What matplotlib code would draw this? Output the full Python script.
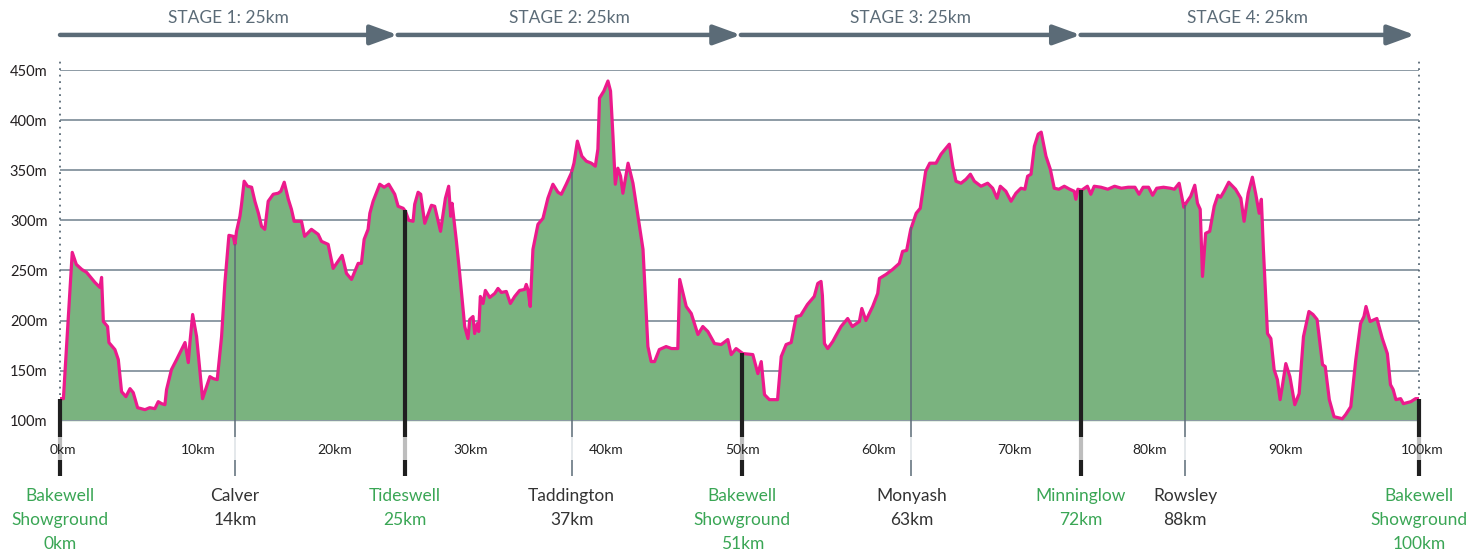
import numpy as np
import matplotlib
matplotlib.use('Agg')
import matplotlib.pyplot as plt

plt.rcParams['font.family'] = ['Lato', 'DejaVu Sans']

# elevation profile: distance (km) and height (m)
dist_km = [
    0.0, 0.25, 0.6, 0.9, 1.2, 1.6, 1.96, 2.57, 2.94, 3.06, 3.19, 3.5, 3.6, 4.04, 4.29,
    4.53, 4.85, 5.15, 5.39, 5.71, 6.25, 6.6, 6.98, 7.23, 7.48, 7.72, 7.84, 8.2, 8.58,
    8.95, 9.2, 9.44, 9.56, 9.76, 10.05, 10.49, 11.03, 11.28, 11.57, 11.89, 12.13, 12.43,
    12.75, 12.87, 12.99, 13.24, 13.36, 13.55, 13.8, 14.1, 14.34, 14.6, 14.83, 15.07,
    15.32, 15.69, 16.05, 16.25, 16.5, 16.8, 17.03, 17.23, 17.77, 18.0, 18.5, 19.0,
    19.24, 19.73, 20.1, 20.76, 21.08, 21.45, 21.94, 22.18, 22.38, 22.67, 22.8, 23.04,
    23.53, 23.85, 24.19, 24.63, 24.88, 25.25, 25.42, 25.66, 25.98, 26.1, 26.35, 26.54,
    26.84, 27.33, 27.57, 28.0, 28.36, 28.6, 28.75, 28.85, 29.17, 29.41, 29.78, 30.02,
    30.15, 30.39, 30.51, 30.71, 30.81, 30.93, 31.13, 31.3, 31.62, 31.99, 32.23, 32.48,
    32.84, 33.14, 33.46, 33.82, 34.19, 34.31, 34.43, 34.6, 34.8, 35.17, 35.54, 35.9,
    36.27, 36.64, 36.89, 37.25, 37.62, 37.82, 38.07, 38.4, 38.73, 39.1, 39.39, 39.58,
    39.7, 40.02, 40.32, 40.51, 40.69, 40.86, 41.05, 41.25, 41.42, 41.8, 42.16, 42.5,
    42.9, 43.26, 43.5, 43.75, 44.1, 44.6, 45.0, 45.46, 45.6, 46.08, 46.45, 46.94, 47.3,
    47.67, 48.16, 48.65, 49.14, 49.39, 49.75, 50.25, 50.98, 51.35, 51.6, 51.84, 52.2,
    52.8, 53.07, 53.43, 53.8, 54.17, 54.5, 55.0, 55.5, 55.76, 56.0, 56.1, 56.25, 56.49,
    56.86, 57.1, 57.47, 57.96, 58.3, 58.82, 59.0, 59.3, 59.8, 60.17, 60.3, 60.78, 61.27,
    61.76, 62.0, 62.3, 62.6, 63.0, 63.3, 63.7, 64.0, 64.46, 64.83, 65.44, 65.69, 65.93,
    66.3, 66.67, 66.99, 67.28, 67.77, 68.26, 68.63, 68.95, 69.19, 69.6, 69.98, 70.34,
    70.71, 71.0, 71.2, 71.45, 71.7, 71.98, 72.2, 72.55, 72.87, 73.16, 73.5, 73.9, 74.3,
    74.63, 74.75, 74.9, 75.17, 75.6, 75.85, 76.1, 76.6, 77.1, 77.6, 78.1, 78.6, 79.1,
    79.4, 79.7, 80.1, 80.4, 80.7, 81.2, 81.7, 82.0, 82.35, 82.7, 82.85, 83.2, 83.5,
    83.7, 83.9, 84.07, 84.3, 84.6, 84.93, 85.2, 85.4, 85.66, 86.0, 86.5, 86.89, 87.13,
    87.43, 87.74, 87.99, 88.24, 88.4, 88.55, 88.85, 89.1, 89.34, 89.58, 89.78, 89.95,
    90.2, 90.5, 90.86, 91.18, 91.5, 91.9, 92.2, 92.5, 92.9, 93.1, 93.4, 93.75, 94.36,
    94.6, 94.98, 95.35, 95.7, 95.95, 96.1, 96.4, 96.9, 97.3, 97.67, 97.9, 98.1, 98.3,
    98.65, 98.85, 99.4, 99.75, 100.0,
]
elev_m = [
    122, 122, 200, 268, 256, 251, 248, 238, 233, 243, 199, 194, 178, 171, 161,
    129, 124, 132, 128, 113, 111, 113, 112, 119, 117, 116, 131, 151, 161,
    171, 178, 158, 178, 206, 184, 122, 144, 142, 141, 184, 237, 285,
    284, 276, 289, 304, 316, 339, 334, 333, 319, 307, 294, 291,
    319, 326, 327, 329, 338, 321, 311, 299, 299, 284, 291, 286,
    279, 276, 252, 265, 247, 241, 257, 257, 281, 291, 307, 319,
    336, 333, 336, 326, 314, 312, 309, 300, 299, 316, 328, 326,
    297, 315, 314, 289, 322, 334, 304, 317, 279, 247, 194, 182,
    201, 204, 187, 197, 189, 224, 217, 230, 223, 227, 232, 228,
    229, 217, 224, 230, 231, 236, 231, 214, 271, 296, 302, 322,
    336, 328, 326, 336, 347, 357, 379, 364, 359, 357, 354, 371,
    422, 429, 439, 429, 384, 336, 352, 344, 327, 357, 337, 307,
    271, 174, 159, 159, 171, 174, 172, 172, 241, 214, 207, 186, 194,
    189, 177, 176, 181, 166, 172, 167, 166, 147, 159, 126, 121,
    121, 164, 176, 178, 204, 205, 216, 224, 237, 239, 225, 177, 172,
    179, 185, 194, 202, 194, 199, 212, 200, 214, 227, 242, 246, 251,
    257, 269, 270, 291, 307, 312, 349, 357, 357, 366, 376, 354, 339,
    337, 341, 346, 339, 334, 337, 332, 322, 334, 329, 319, 327,
    332, 331, 344, 346, 374, 386, 388, 364, 351, 332, 331, 334, 331,
    329, 321, 331, 330, 334, 326, 334, 333, 331, 334, 332, 333, 333,
    326, 333, 333, 325, 332, 333, 332, 331, 337, 313, 317, 324, 335,
    317, 311, 244, 287, 289, 314, 325, 323, 329, 338, 331, 322, 299,
    327, 343, 326, 307, 321, 271, 187, 182, 151, 141, 121, 135,
    157, 144, 116, 127, 184, 209, 206, 201, 156, 154, 121, 104, 102,
    106, 114, 161, 197, 204, 214, 199, 202, 182, 167, 136, 131, 121,
    122, 117, 119, 122, 122,
]

# checkpoints: marker position on the axis, name, stated distance, stage point?
cp_pos = [0.0, 12.87, 25.37, 37.65, 50.2, 62.65, 75.1, 82.8, 100.0]
cp_name = ['Bakewell\nShowground', 'Calver', 'Tideswell', 'Taddington',
           'Bakewell\nShowground', 'Monyash', 'Minninglow', 'Rowsley',
           'Bakewell\nShowground']
cp_dist = ['0km', '14km', '25km', '37km', '51km', '63km', '72km', '88km', '100km']
cp_major = [True, False, True, False, True, False, True, False, True]

stage_names = ['STAGE 1: 25km', 'STAGE 2: 25km', 'STAGE 3: 25km', 'STAGE 4: 25km']
stage_edges = [0.0, 24.85, 50.1, 75.1, 99.7]

km_ticks = list(range(0, 101, 10))
elev_ticks = list(range(100, 451, 50))

FILL = '#7ab37f'
LINE = '#ec1a8c'
GRID = '#8d9ba5'
SLATE = '#5b6b77'
GREEN = '#3aa655'
DARK = '#333333'

fig = plt.figure(figsize=(14.72, 5.51), dpi=100)
ax = fig.add_axes([60 / 1472, (551 - 420.7) / 551, 1359 / 1472, 350.7 / 551])
ax.set_xlim(0, 100)
ax.set_ylim(100, 450)
for s in ax.spines.values():
    s.set_visible(False)
ax.set_xticks([])
ax.set_yticks(elev_ticks, labels=[f'{v}m' for v in elev_ticks])
ax.tick_params(axis='y', length=0, pad=9, labelsize=10.5, labelcolor='#231f20')

# grid lines behind the profile
for v in elev_ticks[1:]:
    ax.axhline(v, color=GRID, lw=1.4, zorder=0)

ax.fill_between(dist_km, elev_m, 100, color=FILL, lw=0, zorder=1)
ax.plot(dist_km, elev_m, color=LINE, lw=2.3, solid_joinstyle='round', zorder=3)
ax.axhline(100, color=GRID, lw=1.4, zorder=2)

# dotted side lines
for xv in (0, 100):
    ax.plot([xv, xv], [100, 459], color=SLATE, lw=1.3, ls=(0, (1, 2.6)),
            clip_on=False, zorder=2)

# km labels under the axis
for k in km_ticks:
    ax.text(k + 0.2, 71, f'{k}km', ha='center', va='center', fontsize=10,
            color='#222222', zorder=5)

# checkpoint markers and names
for pos, name, d, major in zip(cp_pos, cp_name, cp_dist, cp_major):
    top = np.interp(pos, dist_km, elev_m)
    if major:
        col, lt, lw = '#1f1f1f', '#bdbdbd', 3.0
    else:
        col, lt, lw = SLATE, '#dde2e6', 1.1
    ax.plot([pos, pos], [top, 84], color=col, lw=lw, clip_on=False, zorder=4,
            solid_capstyle='butt')
    ax.plot([pos, pos], [84, 61], color=lt, lw=lw, clip_on=False, zorder=4,
            solid_capstyle='butt')
    ax.plot([pos, pos], [61, 45], color=col, lw=lw, clip_on=False, zorder=4,
            solid_capstyle='butt')
    tcol = GREEN if major else DARK
    rows = name.split('\n') + [d]
    for i, r in enumerate(rows):
        ax.text(pos, 25 - 24 * i, r, ha='center', va='center', fontsize=12.5,
                color=tcol, clip_on=False)

# stage arrows
for i, nm in enumerate(stage_names):
    a, b = stage_edges[i], stage_edges[i + 1]
    ax.annotate('', xy=(b, 485), xytext=(a, 485), annotation_clip=False,
                arrowprops=dict(arrowstyle='-|>,head_length=1.65,head_width=0.6',
                                mutation_scale=10, lw=3.2, color=SLATE,
                                shrinkA=0, shrinkB=0))
    ax.text((a + b) / 2, 502, nm, ha='center', va='center', fontsize=12.5,
            color=SLATE, clip_on=False)

fig.savefig('out.png', dpi=100)
